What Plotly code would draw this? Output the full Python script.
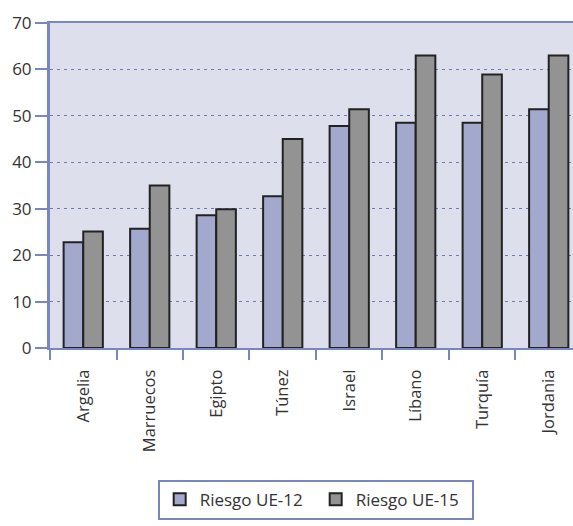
import plotly.graph_objects as go

categories = ["Argelia", "Marruecos", "Egipto", "Túnez", "Israel", "Líbano", "Turquía", "Jordania"]
riesgo_ue12 = [22.8, 25.7, 28.6, 32.7, 47.8, 48.5, 48.5, 51.4]
riesgo_ue15 = [25.1, 35.0, 29.9, 45.0, 51.4, 63.0, 58.9, 63.0]
y_ticks = [0, 10, 20, 30, 40, 50, 60, 70]

axis_blue = "#7a86bf"
grid_blue = "#6e79b8"
font_fam = "Open Sans, Noto Sans, sans-serif"

fig = go.Figure()
fig.add_trace(go.Bar(x=categories, y=riesgo_ue12, name="Riesgo UE-12",
                     marker=dict(color="#a3a8cd", line=dict(color="#222222", width=2))))
fig.add_trace(go.Bar(x=categories, y=riesgo_ue15, name="Riesgo UE-15",
                     marker=dict(color="#939393", line=dict(color="#222222", width=2))))

fig.update_layout(
    width=573, height=526,
    margin=dict(l=50, r=0, t=23, b=178),
    paper_bgcolor="white",
    plot_bgcolor="#dde0ec",
    barmode="group",
    bargap=0.41,
    bargroupgap=0,
    font=dict(family=font_fam, size=16.5, color="#333333"),
    showlegend=True,
    legend=dict(orientation="h", x=0.508, xanchor="center", y=-0.405, yanchor="top",
                bordercolor=axis_blue, borderwidth=2, bgcolor="white",
                font=dict(size=17, color="#333333"), itemwidth=30,
                entrywidth=111, tracegroupgap=0),
    xaxis=dict(range=[-0.5, 7.365], tickangle=-90, showline=True, linecolor=axis_blue,
               linewidth=2, mirror=True, ticks="outside", tickson="boundaries",
               ticklen=10, tickcolor=axis_blue, tickwidth=1.5, showgrid=False,
               ticklabelstandoff=13, fixedrange=True),
    yaxis=dict(range=[0, 70], tickvals=y_ticks, showline=True, linecolor=axis_blue,
               linewidth=3, ticks="outside", ticklen=12, tickcolor=axis_blue,
               tickwidth=1.5, showgrid=True, gridcolor=grid_blue, griddash="3px,4px",
               gridwidth=1, zeroline=False, tickfont=dict(size=17)),
)

fig.write_html("out.html")
